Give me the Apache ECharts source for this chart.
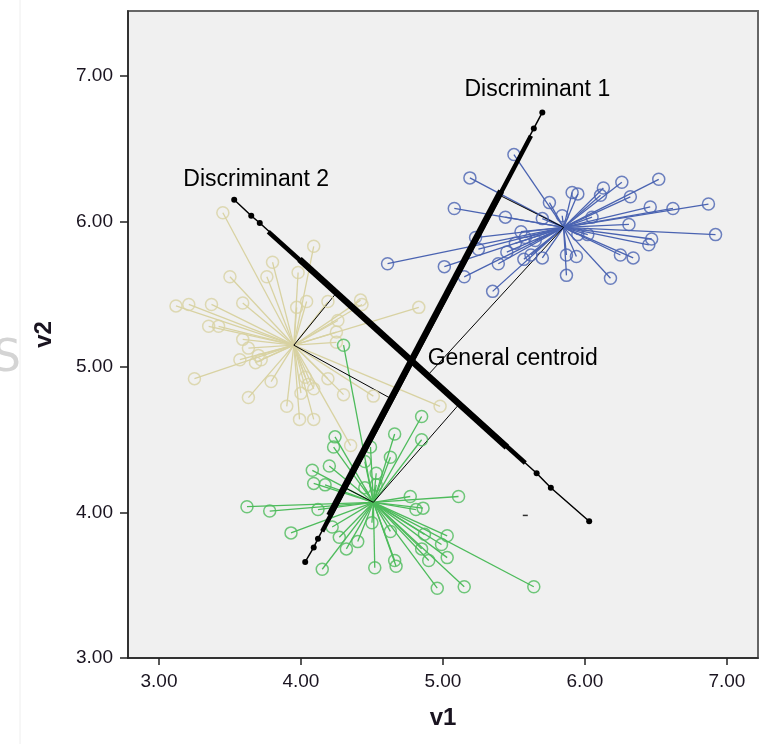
<!DOCTYPE html>
<html>
<head>
<meta charset="utf-8">
<script src="https://cdn.jsdelivr.net/npm/echarts@6/dist/echarts.min.js"></script>
<style>
html, body { margin: 0; padding: 0; background: #fff; }
#chart { width: 769px; height: 744px; }
</style>
</head>
<body>
<div id="chart"></div>
<script>
// axis ticks
const xTicks = [3, 4, 5, 6, 7];
const yTicks = [3, 4, 5, 6, 7];

// group centroids
const tanCentroid = [3.95, 5.15];
const blueCentroid = [5.85, 5.96];
const greenCentroid = [4.51, 4.07];
const generalCentroid = [4.78, 5.04];

// cases (v1, v2)
const tanPoints = [
  [3.45, 6.06], [4.09, 5.83], [3.80, 5.72], [3.50, 5.62], [3.76, 5.62], [3.98, 5.65],
  [3.12, 5.42], [3.21, 5.43], [3.37, 5.43], [3.59, 5.44], [3.97, 5.41], [4.04, 5.45],
  [4.19, 5.45], [4.42, 5.46], [4.43, 5.43], [4.83, 5.41], [3.35, 5.28], [3.42, 5.28],
  [4.26, 5.32], [4.25, 5.24], [3.59, 5.19], [3.63, 5.13], [3.70, 5.08], [3.57, 5.05],
  [3.72, 5.05], [4.25, 5.17], [3.25, 4.92], [3.79, 4.90], [4.03, 4.93], [4.05, 4.88],
  [4.09, 4.85], [4.00, 4.82], [4.19, 4.92], [4.30, 4.81], [4.51, 4.80], [3.63, 4.79],
  [3.90, 4.73], [3.99, 4.64], [4.09, 4.64], [4.98, 4.73], [3.68, 5.03], [4.35, 4.46]
];
const bluePoints = [
  [5.50, 6.46], [5.19, 6.30], [5.08, 6.09], [5.44, 6.03], [5.75, 6.13], [5.91, 6.20],
  [5.95, 6.19], [6.13, 6.23], [6.26, 6.27], [6.52, 6.29], [6.11, 6.18], [6.32, 6.17],
  [6.46, 6.10], [6.62, 6.09], [6.87, 6.12], [6.92, 5.91], [6.31, 5.98], [6.47, 5.88],
  [6.45, 5.84], [6.25, 5.77], [6.34, 5.75], [6.18, 5.61], [5.87, 5.63], [5.87, 5.77],
  [5.94, 5.76], [5.70, 5.75], [5.62, 5.77], [5.55, 5.93], [5.23, 5.89], [5.25, 5.81],
  [5.01, 5.69], [5.15, 5.62], [5.39, 5.71], [5.35, 5.52], [4.61, 5.71], [5.84, 6.04],
  [6.05, 6.03], [6.02, 5.91], [5.95, 5.91], [5.58, 5.89], [5.65, 5.87], [5.51, 5.85],
  [5.45, 5.79], [5.57, 5.74], [5.70, 6.02]
];
const greenPoints = [
  [4.30, 5.15], [4.85, 4.66], [4.66, 4.54], [4.85, 4.50], [4.24, 4.52], [4.23, 4.45],
  [4.49, 4.45], [4.63, 4.38], [4.20, 4.32], [4.08, 4.29], [4.09, 4.20], [4.17, 4.19],
  [4.45, 4.35], [4.53, 4.27], [3.62, 4.04], [3.78, 4.01], [4.12, 4.02], [4.77, 4.11],
  [5.11, 4.11], [4.81, 4.02], [4.86, 4.03], [3.93, 3.86], [4.27, 3.83], [4.40, 3.80],
  [4.32, 3.75], [4.15, 3.61], [4.52, 3.62], [4.66, 3.67], [4.67, 3.63], [4.96, 3.48],
  [5.15, 3.49], [5.64, 3.49], [5.03, 3.84], [4.99, 3.78], [5.03, 3.69], [4.90, 3.67],
  [4.85, 3.75], [4.50, 3.93], [4.63, 3.87], [4.22, 3.90], [4.87, 3.85], [4.45, 4.17],
  [4.53, 4.19]
];

// centroid projections on the discriminant axes: [on D1, on D2]
const tanProj = [[4.64, 4.78], [4.25, 5.51]];
const blueProj = [[5.40, 6.18], [4.89, 4.94]];
const greenProj = [[4.31, 4.17], [5.11, 4.74]];

// discriminant axes: visible dots, dense stretch and densest core
const disc1Dots = [[4.03, 3.66], [4.09, 3.76], [4.12, 3.82], [5.64, 6.64], [5.70, 6.75]];
const disc1Dense = [[4.15, 3.87], [5.62, 6.59]];
const disc1Core = [[4.20, 3.98], [5.41, 6.21]];
const disc2Dots = [[3.53, 6.15], [3.65, 6.04], [3.71, 5.99], [5.66, 4.27], [5.76, 4.17], [6.03, 3.94]];
const disc2Dense = [[3.77, 5.93], [5.58, 4.34]];
const disc2Core = [[3.99, 5.74], [5.45, 4.45]];
const strayMark = [[5.58, 3.98]];

const labelTexts = ["Discriminant 1", "Discriminant 2", "General centroid"];

const FONT = "'Liberation Sans', Arial, sans-serif";
const INK = "#1a1420";

function spokes(c, pts) {
  return pts.map(p => ({ coords: [c, p] }));
}

function starGroup(c, pts, color) {
  return [
    {
      type: "lines",
      coordinateSystem: "cartesian2d",
      silent: true,
      lineStyle: { color: color, width: 1.3, opacity: 1 },
      data: spokes(c, pts)
    },
    {
      type: "scatter",
      symbol: "circle",
      symbolSize: 12,
      itemStyle: { color: "rgba(0,0,0,0)", borderColor: color, borderWidth: 1.5 },
      data: pts
    }
  ];
}

function thick(data, width) {
  return { type: "line", data: data, symbol: "none", silent: true, lineStyle: { color: "#000", width: width } };
}

function dotted(data) {
  return {
    type: "line",
    data: data,
    symbol: "circle",
    symbolSize: 6,
    showAllSymbol: true,
    silent: true,
    itemStyle: { color: "#000" },
    lineStyle: { color: "#000", width: 1.5 }
  };
}

const projLines = [
  [tanCentroid, tanProj[0]], [tanCentroid, tanProj[1]],
  [blueCentroid, blueProj[0]], [blueCentroid, blueProj[1]],
  [greenCentroid, greenProj[0]], [greenCentroid, greenProj[1]]
];

const labelStyle = {
  show: true,
  color: "#000",
  opacity: 1,
  textBorderWidth: 0,
  fontSize: 23,
  fontFamily: FONT
};

const options = {
  animation: false,
  backgroundColor: "#fff",
  grid: {
    left: 128,
    right: 11,
    top: 11,
    bottom: 86,
    show: true,
    backgroundColor: "#f0f0f0",
    borderColor: "#666",
    borderWidth: 2
  },
  xAxis: {
    type: "value",
    min: 2.782,
    max: 7.219,
    name: "v1",
    nameLocation: "middle",
    nameGap: 48,
    nameTextStyle: { fontSize: 24, fontWeight: "bold", color: INK, fontFamily: FONT },
    axisLine: { show: true, onZero: false, lineStyle: { color: "#222", width: 1.5 } },
    axisTick: { show: true, length: 7, customValues: xTicks, lineStyle: { color: "#222", width: 1.5 } },
    axisLabel: {
      margin: 14,
      customValues: xTicks,
      formatter: v => v.toFixed(2),
      fontSize: 19,
      color: INK,
      fontFamily: FONT
    },
    splitLine: { show: false }
  },
  yAxis: {
    type: "value",
    min: 3,
    max: 7.447,
    name: "v2",
    nameLocation: "middle",
    nameGap: 72,
    nameTextStyle: { fontSize: 24, fontWeight: "bold", color: INK, fontFamily: FONT },
    axisLine: { show: true, onZero: false, lineStyle: { color: "#222", width: 1.5 } },
    axisTick: { show: true, length: 8, customValues: yTicks, lineStyle: { color: "#222", width: 1.5 } },
    axisLabel: {
      margin: 15,
      customValues: yTicks,
      formatter: v => v.toFixed(2),
      fontSize: 19,
      color: INK,
      fontFamily: FONT
    },
    splitLine: { show: false }
  },
  graphic: [
    { type: "line", shape: { x1: 20, y1: 0, x2: 20, y2: 744 }, style: { stroke: "#eeeeee", lineWidth: 1 }, z: -1 },
    { type: "text", left: -7, top: 338, style: { text: "S", font: "44px 'DejaVu Sans'", fill: "#d4d4d4" }, z: -1 }
  ],
  series: [
    ...starGroup(tanCentroid, tanPoints, "#d8d2a2"),
    ...starGroup(blueCentroid, bluePoints, "#4a63b1"),
    ...starGroup(greenCentroid, greenPoints, "#4dbb5b"),
    {
      type: "lines",
      coordinateSystem: "cartesian2d",
      silent: true,
      lineStyle: { color: "#000", width: 1, opacity: 1 },
      data: projLines.map(l => ({ coords: l }))
    },
    thick(disc1Dense, 4.5),
    thick(disc1Core, 6.5),
    dotted(disc1Dots),
    thick(disc2Dense, 4.5),
    thick(disc2Core, 6.5),
    dotted(disc2Dots),
    {
      type: "scatter",
      symbol: "rect",
      symbolSize: [5, 1.5],
      itemStyle: { color: "#000" },
      data: strayMark
    },
    {
      type: "scatter",
      symbolSize: 0,
      silent: true,
      itemStyle: { opacity: 1 },
      data: [
        { value: disc1Dots[disc1Dots.length - 1], label: { ...labelStyle, formatter: labelTexts[0], position: "top", distance: 11, offset: [-5, 0] } },
        { value: disc2Dots[0], label: { ...labelStyle, formatter: labelTexts[1], position: "top", distance: 9, offset: [22, 0] } },
        { value: generalCentroid, label: { ...labelStyle, formatter: labelTexts[2], position: "right", distance: 16, offset: [0, -3] } }
      ]
    }
  ]
};

const chart = echarts.init(document.getElementById("chart"));
chart.setOption(options);
</script>
</body>
</html>
